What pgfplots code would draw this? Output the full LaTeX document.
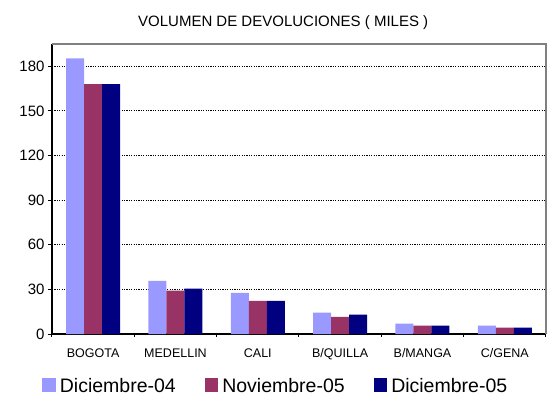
\documentclass[border=0pt]{standalone}
\usepackage{fontspec}
\setmainfont{Liberation Sans}
\usepackage{pgfplots}
\pgfplotsset{compat=1.18}
\definecolor{c1}{RGB}{153,153,255}
\definecolor{c2}{RGB}{153,51,102}
\definecolor{c3}{RGB}{0,0,128}
\definecolor{frame}{RGB}{128,128,128}

\begin{document}
\begin{tikzpicture}
\begin{axis}[
  scale only axis, width=494pt, height=290pt,
  clip=false,
  ybar=0pt, bar width=18pt,
  xmin=-0.5, xmax=5.5, ymin=0, ymax=195,
  xtick={0,...,5},
  xticklabels={BOGOTA,MEDELLIN,CALI,B/QUILLA,B/MANGA,C/GENA},
  major x tick style={draw=none},
  minor xtick={-0.5,0.5,...,5.5},
  ytick={0,30,...,180},
  tick align=outside, major tick length=4pt, minor tick length=3pt,
  tick style={black, line width=1pt},
  ymajorgrids,
  major grid style={black, dash pattern=on 1.2pt off 1.2pt, line width=1.1pt},
  axis x line*=bottom, axis y line*=left,
  axis line style={black, line width=1.5pt},
  xticklabel style={font=\fontsize{12.5}{14}\selectfont, yshift=-7pt},
  yticklabel style={font=\fontsize{15}{17}\selectfont},
  /pgf/number format/assume math mode=true,
  legend style={at={(0.453,-0.179)}, anchor=center, draw=none, fill=none,
    legend columns=3, font=\fontsize{19.5}{22}\selectfont,
    /tikz/every odd column/.append style={column sep=2pt},
    /tikz/every even column/.append style={column sep=27pt}},
  legend image code/.code={\fill[#1] (0pt,-6pt) rectangle (13.5pt,7.5pt);},
]
\addplot[fill=c1, draw=none] coordinates {(0,185.4) (1,35.7) (2,27.6) (3,14.4) (4,7.0) (5,5.6)};
\addplot[fill=c2, draw=none] coordinates {(0,168) (1,29.2) (2,22.2) (3,11.5) (4,5.6) (5,4.3)};
\addplot[fill=c3, draw=none] coordinates {(0,168) (1,30.5) (2,22.2) (3,13.0) (4,5.6) (5,4.3)};
\legend{Diciembre-04, Noviembre-05, Diciembre-05}
\draw[frame, line width=1.5pt] (rel axis cs:0,1) -- (rel axis cs:1,1) -- (rel axis cs:1,0);
\node[anchor=base, font=\fontsize{15}{17}\selectfont] at (rel axis cs:0.468,1) [yshift=18pt] {VOLUMEN DE DEVOLUCIONES ( MILES )};
\end{axis}
\pgfresetboundingbox
\path (-52pt,-66pt) rectangle (500pt,334pt);
\end{tikzpicture}
\end{document}
